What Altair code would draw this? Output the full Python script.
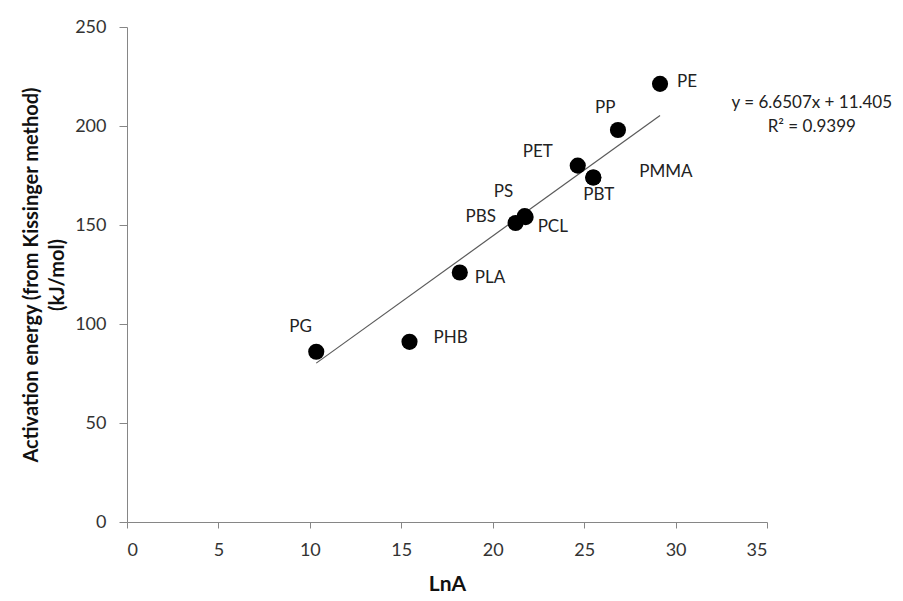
import altair as alt
import pandas as pd

# Data
polymers = ["PE", "PP", "PET", "PMMA", "PBT", "PS", "PBS", "PCL", "PLA", "PG", "PHB"]
lnA = [29.15, 26.85, 24.65, 25.5, 25.5, 21.75, 21.25, 21.8, 18.2, 10.35, 15.45]
Ea = [221.3, 198.0, 180.0, 174.0, 174.0, 154.5, 151.0, 154.0, 126.0, 86.0, 91.0]

# Label offsets (pixels, left-aligned)
label_dx = [17, -23, -55, 46, -10, -31, -50, 12, 15, -27, 24]
label_dy = [-2, -22, -14, -5, 18, -24, -6, 10, 5, -25, -4]

slope = 6.6507
intercept = 11.405
r2 = 0.9399
eq_text = [f"y = {slope}x + {intercept}", f"R\u00b2 = {r2}"]

df = pd.DataFrame({"polymer": polymers, "lnA": lnA, "Ea": Ea})
x_min, x_max = min(lnA), max(lnA)
trend = pd.DataFrame({"lnA": [x_min, x_max],
                      "Ea": [slope * x_min + intercept, slope * x_max + intercept]})

FONT = "Lato"
xscale = alt.Scale(domain=[0, 35], nice=False, zero=True)
yscale = alt.Scale(domain=[0, 250], nice=False)

x_enc = alt.X("lnA:Q", scale=xscale,
              axis=alt.Axis(title="LnA", values=list(range(0, 36, 5)), grid=False,
                            domainColor="#868686", tickColor="#868686", tickSize=6,
                            labelFontSize=18, labelColor="#333333", labelPadding=13,
                            titleFontSize=21, titleFontWeight="bold", titleColor="#111111",
                            titlePadding=14, labelFont=FONT, titleFont=FONT))
y_enc = alt.Y("Ea:Q", scale=yscale,
              axis=alt.Axis(title=["Activation energy (from Kissinger method)", "(kJ/mol)"],
                            values=list(range(0, 251, 50)), grid=False,
                            domainColor="#868686", tickColor="#868686", tickSize=8,
                            labelFontSize=18, labelColor="#333333", labelPadding=13,
                            titleFontSize=20, titleFontWeight="bold", titleColor="#111111",
                            titlePadding=7, labelFont=FONT, titleFont=FONT,
                            titleLineHeight=26))

base = alt.Chart(df)

line = alt.Chart(trend).mark_line(color="#5a5a5a", strokeWidth=1.2).encode(x=x_enc, y=y_enc)
points = base.mark_circle(size=260, color="#000000", opacity=1).encode(x=x_enc, y=y_enc)

layers = [line, points]
for name, dx, dy in zip(polymers, label_dx, label_dy):
    layers.append(
        base.transform_filter(alt.datum.polymer == name)
        .mark_text(align="left", baseline="middle", dx=dx, dy=dy, fontSize=17,
                   font=FONT, color="#222222")
        .encode(x=x_enc, y=y_enc, text="polymer:N")
    )

eq_df = pd.DataFrame({"lnA": [37.45, 37.45], "Ea": [211.8, 199.6], "t": eq_text})
eq = alt.Chart(eq_df).mark_text(align="center", baseline="middle", fontSize=17,
                                font=FONT, color="#222222").encode(
    x=alt.X("lnA:Q", scale=xscale), y=alt.Y("Ea:Q", scale=yscale), text="t:N")
layers.append(eq)

chart = alt.layer(*layers).properties(
    width=640, height=495,
    autosize=alt.AutoSizeParams(type="none"),
    padding={"left": 119, "top": 19, "right": 128, "bottom": 71},
    background="white",
).configure_view(stroke=None)

chart.save("out.html", embed_options={"renderer": "svg", "actions": False})
